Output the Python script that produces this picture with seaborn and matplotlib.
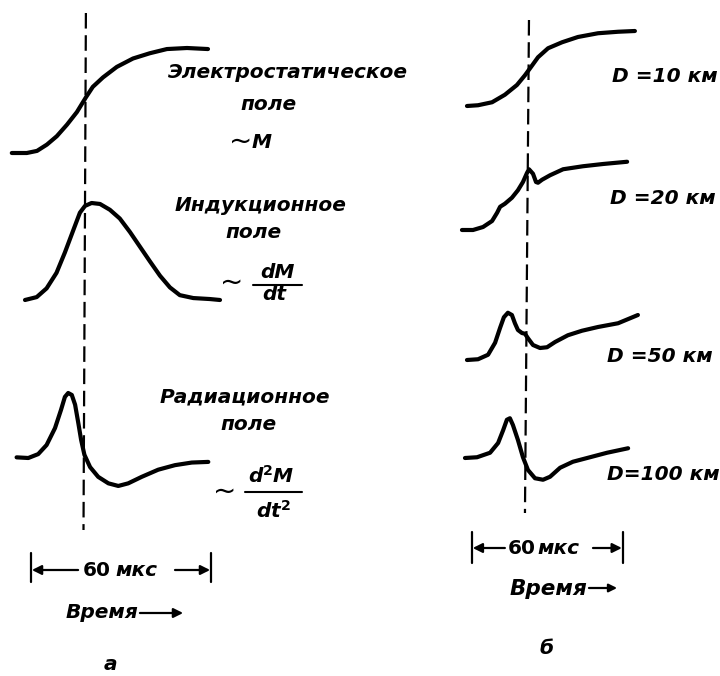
import numpy as np
import pandas as pd
import matplotlib
matplotlib.use("Agg")
import matplotlib.pyplot as plt
import seaborn as sns

sns.set_theme(style="white")
plt.rcParams['font.family'] = ['DejaVu Sans']

# ---------------- data (time in µs from start of 60 µs bar, normalized amplitude) -------------
t_static = [-6.4, -1.4, 2.0, 5.3, 8.6, 12.0, 15.3, 18.3, 20.6, 24.0, 28.6, 34.0, 39.6, 45.3, 52.0, 59.0]
amp_static = [0, 0, 0.02, 0.08, 0.16, 0.27, 0.39, 0.53, 0.63, 0.72, 0.82, 0.90, 0.95, 0.99, 1.0, 0.99]

t_induct = [-2.0, 1.9, 5.2, 8.5, 11.3, 14.1, 16.3, 18.0, 20.2, 23.0, 26.3, 29.6, 33.0, 36.3,
            39.6, 43.0, 46.3, 49.6, 54.1, 59.6, 63.0]
amp_induct = [0, 0.03, 0.12, 0.28, 0.49, 0.72, 0.90, 0.97, 1.0, 0.99, 0.93, 0.84, 0.70, 0.55,
              0.40, 0.25, 0.13, 0.05, 0.02, 0.01, 0]

t_rad = [-4.8, -0.9, 2.4, 5.2, 8.0, 10.0, 11.3, 12.4, 13.6, 14.7, 15.8, 16.7, 17.8, 19.7,
         22.4, 25.8, 29.1, 32.4, 36.9, 42.4, 48.0, 53.6, 59.1]
amp_rad = [0.01, 0, 0.06, 0.20, 0.46, 0.74, 0.94, 1.0, 0.97, 0.82, 0.53, 0.28, 0.05, -0.14,
           -0.29, -0.39, -0.43, -0.39, -0.29, -0.18, -0.11, -0.07, -0.06]

t_d10 = [-2.0, 2.4, 8.0, 13.1, 17.9, 21.1, 23.5, 26.3, 30.3, 35.9, 42.2, 50.2, 58.2, 64.9]
amp_d10 = [0, 0.01, 0.05, 0.15, 0.28, 0.41, 0.52, 0.65, 0.77, 0.85, 0.92, 0.97, 0.99, 1.0]

t_d20 = [-4.0, 0.4, 4.4, 8.0, 10.0, 11.2, 13.1, 15.9, 18.3, 20.3, 21.9, 22.7, 24.3, 25.5,
         26.3, 27.9, 31.1, 36.3, 44.2, 52.2, 61.8]
amp_d20 = [0, 0, 0.04, 0.12, 0.23, 0.31, 0.35, 0.43, 0.53, 0.64, 0.76, 0.81, 0.75, 0.64,
           0.63, 0.67, 0.73, 0.81, 0.85, 0.88, 0.91]

t_d50 = [-2.0, 2.4, 6.4, 9.2, 11.2, 12.7, 14.3, 15.9, 17.1, 18.3, 19.9, 21.1, 22.3, 24.3,
         27.1, 29.9, 33.1, 38.2, 43.8, 50.2, 58.2, 66.1]
amp_d50 = [0, 0.01, 0.07, 0.23, 0.43, 0.57, 0.63, 0.60, 0.49, 0.40, 0.36, 0.35, 0.29, 0.20,
           0.16, 0.17, 0.24, 0.33, 0.39, 0.44, 0.49, 0.60]

t_d100 = [-2.8, 2.0, 7.2, 10.4, 12.4, 13.9, 15.1, 16.3, 18.3, 20.3, 22.3, 25.1, 28.3, 31.1,
          35.1, 40.2, 47.0, 53.8, 62.2]
amp_d100 = [0, 0.01, 0.07, 0.20, 0.37, 0.51, 0.53, 0.44, 0.24, 0.01, -0.16, -0.27, -0.29, -0.25,
            -0.13, -0.05, 0.01, 0.07, 0.13]

bar_span = [0, 60]           # µs scale bar
dash_t_left = [18.3, 17.5]   # reference instant (top, bottom), µs
dash_t_right = [22.7, 21.1]

labels_right = ["D =10 км", "D =20 км", "D =50 км", "D=100 км"]

# ---------------- layout ----------------
W, H = 720, 676
fig = plt.figure(figsize=(W / 100, H / 100), dpi=100)
fig.patch.set_facecolor("white")

LEFT = dict(x0=31, scale=3.0, lo=0, hi=360)
RIGHT = dict(x0=472, scale=2.51, lo=440, hi=720)


def px_axes(x, ytop, w, h, z=1):
    ax = fig.add_axes([x / W, 1 - (ytop + h) / H, w / W, h / H], zorder=z)
    ax.set_axis_off()
    return ax


def tlim(p):
    return ((p['lo'] - p['x0']) / p['scale'], (p['hi'] - p['x0']) / p['scale'])


def draw_curve(p, t, a, baseline, height):
    ax = px_axes(p['lo'], baseline - height, p['hi'] - p['lo'], height, z=2)
    df = pd.DataFrame({"t": t, "amp": a})
    sns.lineplot(data=df, x="t", y="amp", ax=ax, sort=False, estimator=None,
                 color="black", linewidth=3.0)
    for ln in ax.lines:
        ln.set_clip_on(False)
        ln.set_solid_capstyle("round")
        ln.set_solid_joinstyle("round")
    ax.set_xlim(*tlim(p))
    ax.set_ylim(0, 1)
    ax.set_axis_off()
    return ax


def panel_axes(p):
    ax = px_axes(p['lo'], 0, p['hi'] - p['lo'], H, z=1)
    ax.set_xlim(*tlim(p))
    ax.set_ylim(H, 0)
    ax.set_axis_off()
    return ax


draw_curve(LEFT, t_static, amp_static, 153, 105)
draw_curve(LEFT, t_induct, amp_induct, 300, 97)
draw_curve(LEFT, t_rad, amp_rad, 458, 65)
draw_curve(RIGHT, t_d10, amp_d10, 106, 75)
draw_curve(RIGHT, t_d20, amp_d20, 230, 75)
draw_curve(RIGHT, t_d50, amp_d50, 360, 75)
draw_curve(RIGHT, t_d100, amp_d100, 458, 75)

axL = panel_axes(LEFT)
axR = panel_axes(RIGHT)

DASH = (0, (7, 3))
axL.plot(dash_t_left, [13, 530], color="black", lw=1.6, linestyle=DASH)
axR.plot(dash_t_right, [20, 513], color="black", lw=1.6, linestyle=DASH)

FS = 14.5
ital = dict(style="italic", weight="bold", fontsize=FS, color="black")
upr = dict(weight="bold", fontsize=FS, color="black")
tild = dict(weight="normal", fontsize=20, color="black")
ARW = dict(arrowstyle="-|>", color="black", lw=1.6, mutation_scale=14, shrinkA=0, shrinkB=0)


def scale_bar(ax, y, ytop, ybot, left_arrow_end, right_arrow_start, txt60, txtmks):
    for tb in bar_span:
        ax.plot([tb, tb], [ytop, ybot], color="black", lw=1.6)
    ax.annotate("", xy=(bar_span[0] + 0.3, y), xytext=(left_arrow_end, y), arrowprops=ARW)
    ax.annotate("", xy=(bar_span[1] - 0.3, y), xytext=(right_arrow_start, y), arrowprops=ARW)
    ax.text(txt60, y, "60", ha="right", va="center", **upr)
    ax.text(txtmks, y + 1, "мкс", ha="left", va="center", **ital)


def fx(x):
    return x / W


def fy(y):
    return 1 - y / H


# ----- left panel texts -----
fig.text(fx(168), fy(72), "Электростатическое", ha="left", va="center", **ital)
fig.text(fx(268), fy(104), "поле", ha="center", va="center", **ital)
fig.text(fx(241), fy(142), "~", ha="center", va="center", **tild)
fig.text(fx(262), fy(143), "M", ha="center", va="center", **ital)

fig.text(fx(175), fy(205), "Индукционное", ha="left", va="center", **ital)
fig.text(fx(253), fy(233), "поле", ha="center", va="center", **ital)
fig.text(fx(232), fy(283), "~", ha="center", va="center", **tild)
fig.text(fx(277), fy(272), "dM", ha="center", va="center", **ital)
fig.text(fx(274), fy(295), "dt", ha="center", va="center", **ital)
fig.add_artist(plt.Line2D([fx(253), fx(302)], [fy(285), fy(285)], color="black", lw=1.5))

fig.text(fx(160), fy(397), "Радиационное", ha="left", va="center", **ital)
fig.text(fx(248), fy(425), "поле", ha="center", va="center", **ital)
fig.text(fx(225), fy(492), "~", ha="center", va="center", **tild)
fig.text(fx(271), fy(476), "d$^\\mathbf{2}$M", ha="center", va="center", **ital)
fig.text(fx(273), fy(511), "dt$^\\mathbf{2}$", ha="center", va="center", **ital)
fig.add_artist(plt.Line2D([fx(245), fx(302)], [fy(492), fy(492)], color="black", lw=1.5))

scale_bar(axL, 570, 553, 582, 15.7, 48.0, 26.7, 28.0)
axL.text(35.7, 613, "Время", ha="right", va="center", **ital)
axL.annotate("", xy=(50.7, 613), xytext=(36.3, 613), arrowprops=ARW)
fig.text(fx(110), fy(665), "a", ha="center", va="center", **ital)

# ----- right panel texts -----
for lab, x, y in zip(labels_right, [612, 610, 607, 607], [76, 198, 356, 475]):
    fig.text(fx(x), fy(y), lab, ha="left", va="center", **ital)

scale_bar(axR, 548, 532, 563, 13.1, 48.2, 25.5, 25.9)
axR.text(45.8, 589, "Время", ha="right", va="center",
         style="italic", weight="bold", fontsize=15.5, color="black")
axR.annotate("", xy=(57.8, 588), xytext=(46.6, 588),
             arrowprops=dict(ARW, mutation_scale=12))
fig.text(fx(547), fy(648), "б", ha="center", va="center", **ital)

fig.savefig("out.png", dpi=100, facecolor="white")
